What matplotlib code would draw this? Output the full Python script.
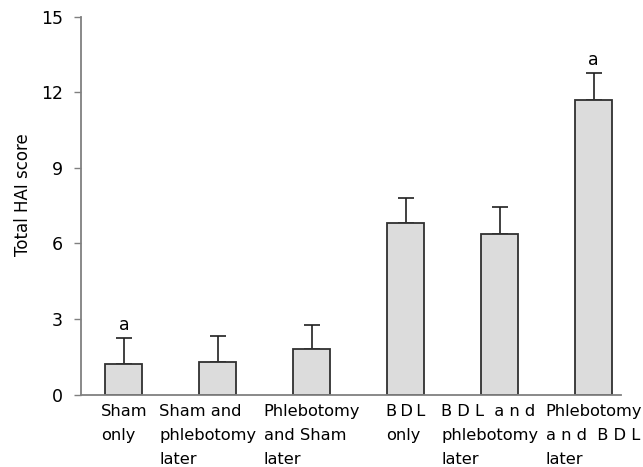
import numpy as np
import matplotlib.pyplot as plt
import matplotlib.transforms as mtransforms

groups = ["Sham\nonly",
          "Sham and\nphlebotomy\nlater",
          "Phlebotomy\nand Sham\nlater",
          "B\u2009D\u2009L\nonly",
          "B D L  a n d\nphlebotomy\nlater",
          "Phlebotomy\na n d  B D L\nlater"]
means = [1.21, 1.29, 1.81, 6.81, 6.37, 11.69]
errs = [1.03, 1.03, 0.96, 1.00, 1.07, 1.06]
marks = ["a", "", "", "", "", "a"]

plt.rcParams['font.family'] = 'DejaVu Sans'

fig = plt.figure(figsize=(6.43, 4.67), dpi=100)
ax = fig.add_axes([0.126, 0.1552, 0.8398, 0.809])

x = np.arange(len(means))
ax.bar(x, means, width=0.394, color='#dcdcdc', edgecolor='#303030', lw=1.3, zorder=2)
ax.errorbar(x, means, yerr=[np.zeros(len(errs)), errs], fmt='none',
            ecolor='#202020', elinewidth=1.2, capsize=6, capthick=1.2, zorder=1)

for xi, m, e, t in zip(x, means, errs, marks):
    if t:
        ax.annotate(t, (xi, m+e), xytext=(0, 3), textcoords='offset points',
                    ha='center', va='bottom', fontsize=12.5)

ax.set_xlim(-0.457, 5.29)
ax.set_ylim(0, 15)
ax.set_yticks([0, 3, 6, 9, 12, 15])
ax.set_xticks(x)
ax.set_xticklabels(groups, fontsize=11.7, multialignment='left', linespacing=1.75)
ax.tick_params(axis='x', length=0, pad=7)
ax.tick_params(axis='y', length=5, width=1, color='#808080', pad=8, labelsize=12.5)

# two labels sit a bit left of their bar in the original
for i in [1, 4]:
    lab = ax.get_xticklabels()[i]
    lab.set_transform(lab.get_transform() + mtransforms.ScaledTranslation(-10/100, 0, fig.dpi_scale_trans))

for s in ['top', 'right']:
    ax.spines[s].set_visible(False)
for s in ['left', 'bottom']:
    ax.spines[s].set_color('#808080')
    ax.spines[s].set_linewidth(1.3)

ax.set_ylabel("Total HAI score", fontsize=12)
ax.yaxis.set_label_coords(-0.091, 0.53)

plt.savefig("out.png", dpi=100)
